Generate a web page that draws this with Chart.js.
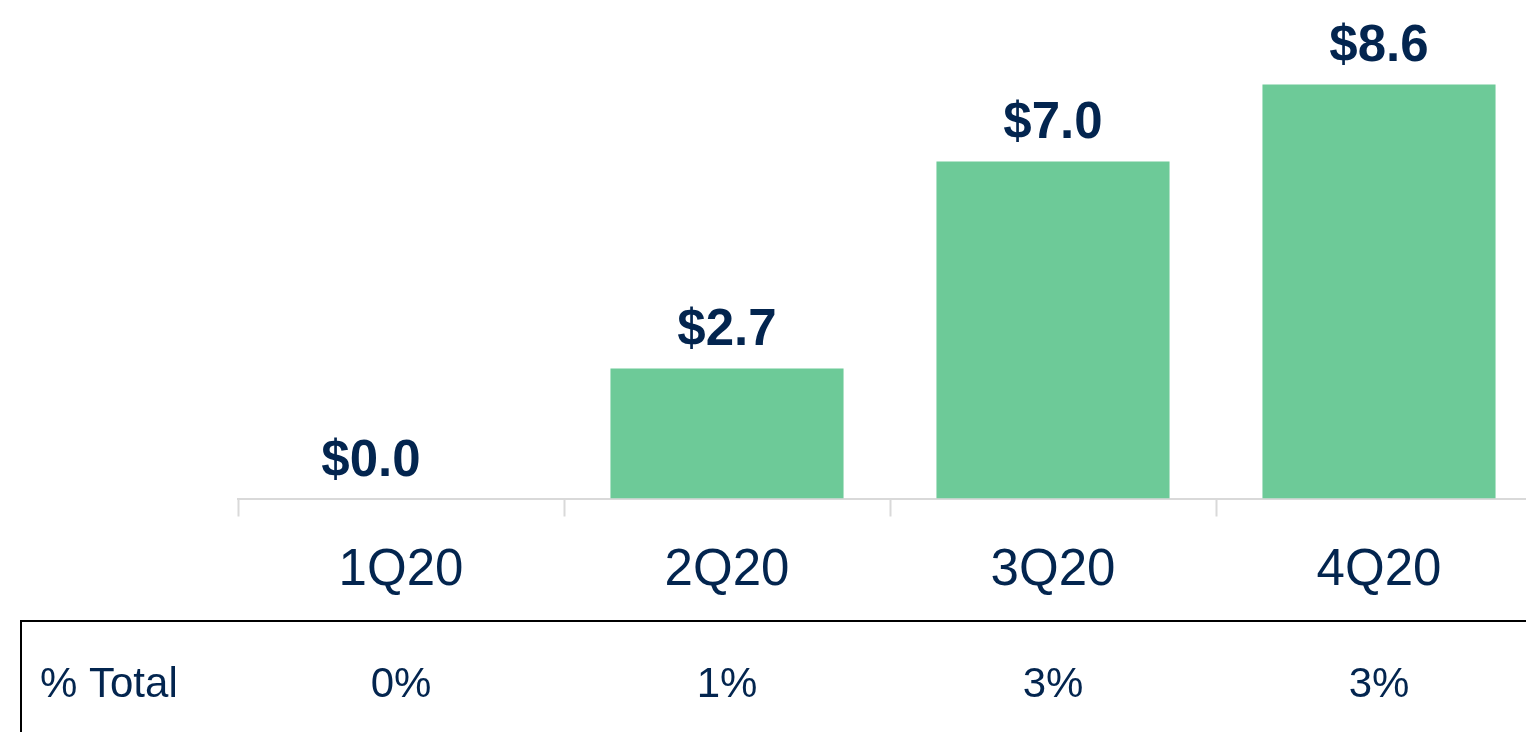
<!DOCTYPE html>
<html lang="en">
    <head>
        <meta charset="utf-8">
        <title>Quarterly amounts</title>
        <script type="text/javascript" src="https://cdn.jsdelivr.net/npm/chart.js@4/dist/chart.umd.min.js"></script>
        <style>
            html, body { margin: 0; padding: 0; overflow: hidden; background: #ffffff; }
            #wrap { position: absolute; left: 0; top: 0; width: 1542px; height: 732px; }
        </style>
    </head>
    <body>
        <div id="wrap">
            <canvas id="chartQ"></canvas>
        </div>

        <script type="text/javascript">
        // data
        const quarters = ['1Q20', '2Q20', '3Q20', '4Q20'];
        const amounts = [0.0, 2.7, 7.0, 8.6];
        const pctTotal = ['0%', '1%', '3%', '3%'];
        const rowTitle = '% Total';

        const navy = '#03254f';
        const green = '#6dca98';
        const fontName = '"Liberation Sans", Arial, sans-serif';

        // $ labels above the bars
        const barLabels = {
            id: 'barLabels',
            afterDatasetsDraw(chart) {
                const ctx = chart.ctx;
                const meta = chart.getDatasetMeta(0);
                ctx.save();
                ctx.font = 'bold 51px ' + fontName;
                ctx.fillStyle = navy;
                ctx.textAlign = 'center';
                ctx.textBaseline = 'alphabetic';
                meta.data.forEach(function (bar, i) {
                    let dx = (i === 0) ? -30 : 0;
                    ctx.fillText('$' + amounts[i].toFixed(1), bar.x + dx, bar.y - 23);
                });
                ctx.restore();
            }
        };

        // little table under the axis
        const pctRow = {
            id: 'pctRow',
            afterDraw(chart) {
                const ctx = chart.ctx;
                const xs = chart.scales.x;
                ctx.save();
                ctx.strokeStyle = '#000000';
                ctx.lineWidth = 2;
                ctx.beginPath();
                ctx.moveTo(20, 621);
                ctx.lineTo(chart.width, 621);
                ctx.moveTo(21, 621);
                ctx.lineTo(21, chart.height);
                ctx.stroke();

                ctx.fillStyle = navy;
                ctx.font = '42px ' + fontName;
                ctx.textBaseline = 'alphabetic';
                ctx.textAlign = 'left';
                ctx.fillText(rowTitle, 40, 697);
                ctx.textAlign = 'center';
                pctTotal.forEach(function (p, i) {
                    ctx.fillText(p, xs.getPixelForValue(i), 697);
                });
                ctx.restore();
            }
        };

        const ctx = document.getElementById('chartQ').getContext('2d');
        const myChart = new Chart(ctx, {
            type: 'bar',
            data: {
                labels: quarters,
                datasets: [{
                    data: amounts,
                    backgroundColor: green,
                    borderWidth: 0,
                    categoryPercentage: 1.0,
                    barPercentage: 0.715
                }]
            },
            options: {
                responsive: true,
                maintainAspectRatio: false,
                animation: false,
                layout: {
                    padding: { left: 238, right: 0, top: 17, bottom: 133.5 }
                },
                scales: {
                    x: {
                        afterFit: function (scale) { scale.height = 100; },
                        grid: {
                            drawOnChartArea: false,
                            drawTicks: true,
                            tickLength: 18,
                            tickWidth: 2,
                            tickColor: '#d9d9d9',
                            offset: true
                        },
                        border: { color: '#d9d9d9', width: 2 },
                        ticks: {
                            color: navy,
                            font: { family: fontName, size: 51 },
                            padding: 24,
                            maxRotation: 0
                        }
                    },
                    y: {
                        display: false,
                        min: 0,
                        max: 10
                    }
                },
                plugins: {
                    legend: { display: false },
                    tooltip: { enabled: false }
                }
            },
            plugins: [barLabels, pctRow]
        });
        </script>
    </body>
</html>
